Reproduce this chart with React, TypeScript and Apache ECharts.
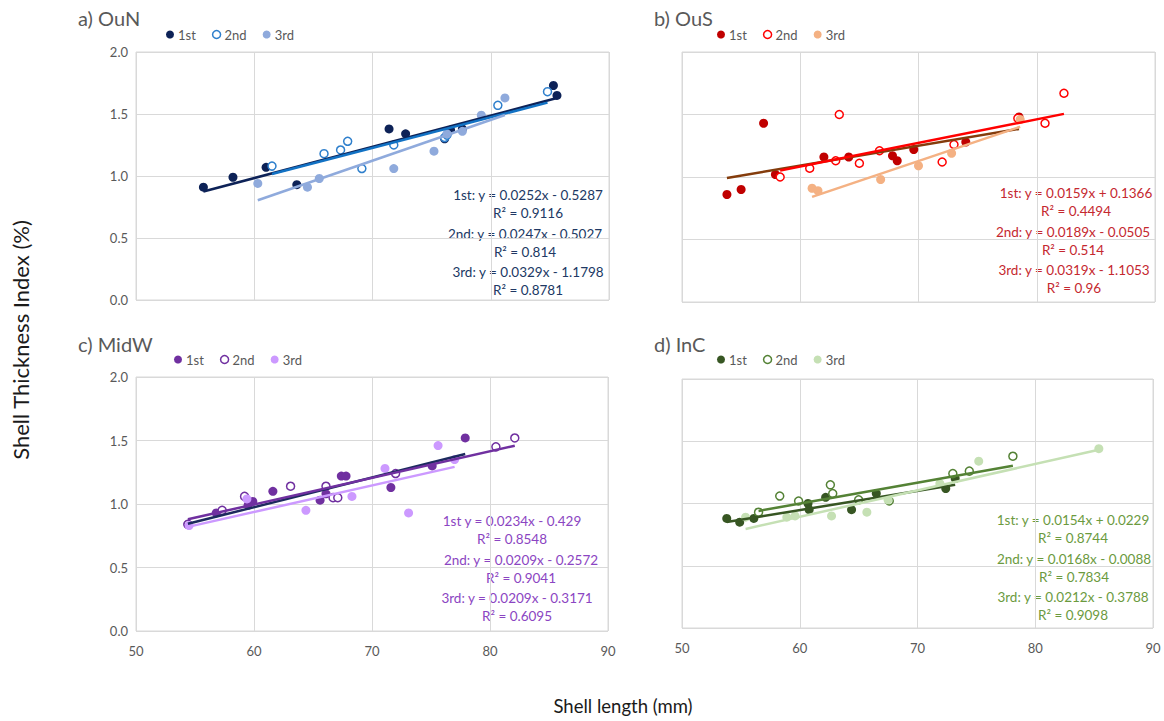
import { useEffect, useRef } from "react";
import * as echarts from "echarts";

const FONT = "Lato, 'Noto Sans', sans-serif";

// ---------- data (shell length mm, shell thickness index %) ----------
const panelTitles = ["a) OuN", "b) OuS", "c) MidW", "d) InC"];
const seriesNames = ["1st", "2nd", "3rd"];

const ouN1st = [[55.7, 0.91], [58.2, 0.99], [61.0, 1.07], [63.6, 0.93], [71.4, 1.38], [72.8, 1.34], [76.1, 1.30], [76.6, 1.37], [77.6, 1.38], [85.3, 1.73], [85.6, 1.65]];
const ouN2nd = [[61.5, 1.08], [65.9, 1.18], [67.3, 1.21], [67.9, 1.28], [69.1, 1.06], [71.8, 1.25], [76.1, 1.31], [76.3, 1.33], [80.6, 1.57], [84.8, 1.68]];
const ouN3rd = [[60.3, 0.94], [64.5, 0.91], [65.5, 0.98], [71.8, 1.06], [75.2, 1.20], [76.3, 1.34], [77.6, 1.36], [79.2, 1.49], [81.2, 1.63]];

const ouS1st = [[53.8, 0.86], [55.0, 0.90], [56.9, 1.43], [57.9, 1.02], [62.0, 1.16], [64.1, 1.16], [67.8, 1.17], [68.2, 1.13], [69.6, 1.22], [74.0, 1.28], [78.5, 1.48]];
const ouS2nd = [[58.3, 1.00], [60.8, 1.07], [63.0, 1.13], [63.3, 1.50], [65.0, 1.11], [66.7, 1.21], [72.0, 1.12], [73.0, 1.26], [78.4, 1.47], [80.7, 1.43], [82.3, 1.67]];
const ouS3rd = [[61.0, 0.91], [61.5, 0.89], [66.8, 0.98], [70.0, 1.09], [72.8, 1.19], [78.6, 1.46]];

const midW1st = [[54.4, 0.84], [56.8, 0.93], [59.5, 0.99], [59.9, 1.02], [61.6, 1.10], [65.6, 1.03], [66.1, 1.08], [67.4, 1.22], [67.8, 1.22], [71.6, 1.13], [75.1, 1.30], [77.9, 1.52]];
const midW2nd = [[54.4, 0.84], [57.3, 0.95], [59.2, 1.06], [63.1, 1.14], [66.1, 1.14], [66.7, 1.05], [67.1, 1.05], [72.0, 1.24], [80.5, 1.45], [82.1, 1.52]];
const midW3rd = [[54.5, 0.83], [59.4, 1.04], [64.4, 0.95], [68.3, 1.06], [71.1, 1.28], [73.1, 0.93], [75.6, 1.46], [77.0, 1.35]];

const inC1st = [[53.8, 0.88], [54.9, 0.85], [56.1, 0.88], [60.7, 1.00], [60.8, 0.95], [62.2, 1.05], [64.4, 0.95], [66.5, 1.08], [72.4, 1.12], [73.2, 1.20]];
const inC2nd = [[56.5, 0.93], [58.3, 1.06], [59.9, 1.02], [62.6, 1.15], [62.8, 1.08], [65.0, 1.03], [67.6, 1.02], [73.0, 1.24], [74.4, 1.26], [78.1, 1.38]];
const inC3rd = [[55.4, 0.89], [58.9, 0.89], [59.6, 0.90], [62.7, 0.90], [65.7, 0.93], [67.5, 1.03], [71.9, 1.16], [75.2, 1.34], [85.4, 1.44]];

// trendline equations shown on the chart
const ouNSlopes = [0.0252, 0.0247, 0.0329];
const ouNIntercepts = [-0.5287, -0.5027, -1.1798];
const ouNR2 = ["0.9116", "0.814", "0.8781"];
const ouSSlopes = [0.0159, 0.0189, 0.0319];
const ouSIntercepts = [0.1366, -0.0505, -1.1053];
const ouSR2 = ["0.4494", "0.514", "0.96"];
const midWSlopes = [0.0234, 0.0209, 0.0209];
const midWIntercepts = [-0.429, -0.2572, -0.3171];
const midWR2 = ["0.8548", "0.9041", "0.6095"];
const inCSlopes = [0.0154, 0.0168, 0.0212];
const inCIntercepts = [0.0229, -0.0088, -0.3788];
const inCR2 = ["0.8744", "0.7834", "0.9098"];

const xTicks = [50, 60, 70, 80, 90];
const yTicks = [0, 0.5, 1, 1.5, 2];

const panelData = [
  [ouN1st, ouN2nd, ouN3rd],
  [ouS1st, ouS2nd, ouS3rd],
  [midW1st, midW2nd, midW3rd],
  [inC1st, inC2nd, inC3rd],
];
const panelSlopes = [ouNSlopes, ouSSlopes, midWSlopes, inCSlopes];
const panelIntercepts = [ouNIntercepts, ouSIntercepts, midWIntercepts, inCIntercepts];
const panelR2 = [ouNR2, ouSR2, midWR2, inCR2];
const eqLabels = [
  ["1st:", "2nd:", "3rd:"],
  ["1st:", "2nd:", "3rd:"],
  ["1st", "2nd:", "3rd:"],
  ["1st:", "2nd:", "3rd:"],
];

// ---------- styling ----------
const markerColors = [
  ["#0D2257", "#2E7FCC", "#8FAADC"],
  ["#C00000", "#FF0000", "#F4B183"],
  ["#7030A0", "#7030A0", "#CC99FF"],
  ["#375623", "#548235", "#C5E0B4"],
];
const lineColors = [
  ["#0D2257", "#1272C4", "#8FAADC"],
  ["#843C0C", "#FF0000", "#F4B183"],
  ["#1C2A5E", "#7030A0", "#CC99FF"],
  ["#375623", "#548235", "#C5E0B4"],
];
const textColors = ["#203864", "#C5282F", "#8B45C2", "#6B9A3E"];

const grids = [
  { left: 136, top: 52, width: 473, height: 248 },
  { left: 682, top: 52, width: 473, height: 250 },
  { left: 136, top: 377, width: 472, height: 254 },
  { left: 682, top: 379, width: 471, height: 249 },
];
const titlePos = [[78, 20], [654, 20], [78, 346], [654, 346]];
const legendPos = [[161, 23], [712, 23], [169, 348], [712, 348]];
const eqCenters = [
  [528, 525, 528],
  [1076, 1073, 1074],
  [512, 521, 517],
  [1073, 1074, 1073],
];
const eqTops = [195, 193, 521, 520];

function App() {
  const ref = useRef<HTMLDivElement>(null);
  useEffect(() => {
    if (!ref.current) return;
    const chart = echarts.init(ref.current, null, { renderer: "svg" });

    const series: any[] = [];
    const legends: any[] = [];
    const graphics: any[] = [];

    panelData.forEach((sets, p) => {
      sets.forEach((pts, s) => {
        const open = s === 1;
        series.push({
          type: "scatter",
          name: `${p}-${seriesNames[s]}`,
          xAxisIndex: p,
          yAxisIndex: p,
          data: pts,
          symbol: "circle",
          symbolSize: open ? 8 : 9,
          itemStyle: open
            ? { color: "#ffffff", borderColor: markerColors[p][s], borderWidth: 1.5, opacity: 1 }
            : { color: markerColors[p][s], opacity: 1 },
          z: 2,
        });
      });
      sets.forEach((pts, s) => {
        const xs = pts.map((d) => d[0]);
        const x0 = Math.min(...xs);
        const x1 = Math.max(...xs);
        const m = panelSlopes[p][s];
        const b = panelIntercepts[p][s];
        series.push({
          type: "line",
          name: `${p}-trend-${s}`,
          xAxisIndex: p,
          yAxisIndex: p,
          data: [[x0, m * x0 + b], [x1, m * x1 + b]],
          showSymbol: false,
          symbol: "none",
          lineStyle: { color: lineColors[p][s], width: 2.5 },
          z: 3,
        });
      });

      legends.push({
        left: legendPos[p][0],
        top: legendPos[p][1],
        orient: "horizontal",
        itemWidth: 8,
        itemHeight: 8,
        itemGap: 16,
        textStyle: { color: "#595959", fontSize: 13, fontFamily: FONT, padding: [0, 0, 0, -1] },
        formatter: (n: string) => n.split("-")[1],
        data: seriesNames.map((nm, s) => ({
          name: `${p}-${nm}`,
          icon: "circle",
          itemStyle:
            s === 1
              ? { color: "#ffffff", borderColor: markerColors[p][s], borderWidth: 1.5 }
              : { color: markerColors[p][s], borderWidth: 0 },
        })),
      });

      graphics.push({
        type: "text",
        left: titlePos[p][0],
        top: titlePos[p][1] - 12,
        style: { text: panelTitles[p], fill: "#595959", fontSize: 20, fontFamily: FONT },
      });

      for (let s = 0; s < 3; s++) {
        const m = panelSlopes[p][s];
        const b = panelIntercepts[p][s];
        const sign = b < 0 ? "-" : "+";
        const eq = `${eqLabels[p][s]} y = ${m}x ${sign} ${Math.abs(b)}`;
        const r2 = `R² = ${panelR2[p][s]}`;
        const cx = eqCenters[p][s];
        const y0 = eqTops[p] + s * 38.5;
        [eq, r2].forEach((t, k) => {
          graphics.push({
            type: "text",
            x: cx,
            y: y0 + k * 18,
            style: {
              text: t,
              fill: textColors[p],
              fontSize: 13.5,
              fontFamily: FONT,
              textAlign: "center",
              textVerticalAlign: "middle",
              align: "center",
              verticalAlign: "middle",
            },
          });
        });
      }
    });

    graphics.push({
      type: "text",
      x: 20,
      y: 340,
      rotation: Math.PI / 2,
      style: {
        text: "Shell Thickness Index (%)",
        fill: "#1a1a1a",
        fontSize: 22,
        fontFamily: FONT,
        textAlign: "center",
        textVerticalAlign: "middle",
        align: "center",
        verticalAlign: "middle",
      },
    });
    graphics.push({
      type: "text",
      x: 623,
      y: 706,
      style: {
        text: "Shell length (mm)",
        fill: "#1a1a1a",
        fontSize: 18.5,
        fontFamily: FONT,
        textAlign: "center",
        textVerticalAlign: "middle",
        align: "center",
        verticalAlign: "middle",
      },
    });

    const option: any = {
      animation: false,
      backgroundColor: "#ffffff",
      grid: grids.map((g) => ({ ...g, show: true, borderColor: "#D9D9D9", borderWidth: 1, containLabel: false })),
      xAxis: grids.map((_, p) => ({
        type: "value",
        gridIndex: p,
        min: xTicks[0],
        max: xTicks[xTicks.length - 1],
        interval: xTicks[1] - xTicks[0],
        axisLine: { show: false },
        axisTick: { show: false },
        splitLine: { show: true, lineStyle: { color: "#D9D9D9", width: 1 } },
        axisLabel: { show: p >= 2, color: "#595959", fontSize: 13, fontFamily: FONT, margin: 13 },
      })),
      yAxis: grids.map((_, p) => ({
        type: "value",
        gridIndex: p,
        min: yTicks[0],
        max: yTicks[yTicks.length - 1],
        interval: yTicks[1] - yTicks[0],
        axisLine: { show: false },
        axisTick: { show: false },
        splitLine: { show: true, lineStyle: { color: "#D9D9D9", width: 1 } },
        axisLabel: {
          show: p % 2 === 0,
          color: "#595959",
          fontSize: 13,
          fontFamily: FONT,
          margin: 8,
          formatter: (v: number) => v.toFixed(1),
        },
      })),
      legend: legends,
      series,
      graphic: graphics,
    };
    chart.setOption(option);
    return () => chart.dispose();
  }, []);

  return (
    <div
      ref={ref}
      style={{ position: "fixed", left: 0, top: 0, width: 1164, height: 721, background: "#fff" }}
    />
  );
}

export default App;
